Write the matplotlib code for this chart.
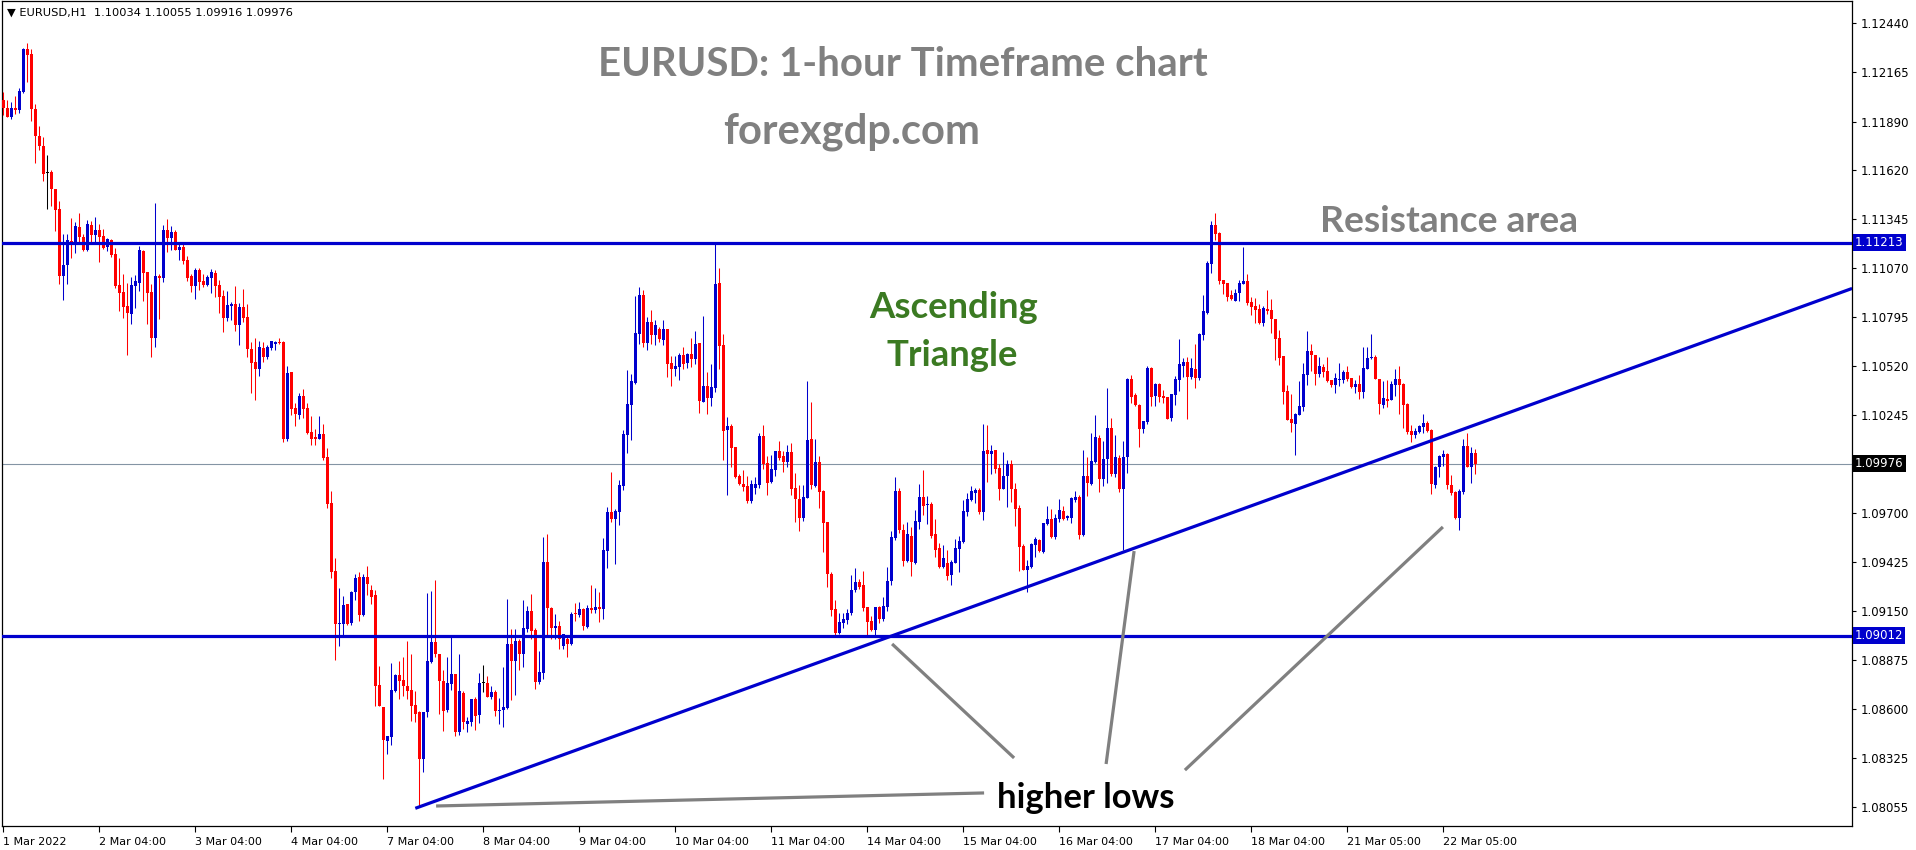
import matplotlib
matplotlib.use('Agg')
import matplotlib.pyplot as plt
import matplotlib.transforms as mtransforms
import numpy as np

# ---------------- data (EURUSD H1) ----------------
opens = [
1.12011, 1.11966, 1.11917, 1.11966, 1.11955, 1.12057, 1.12294, 1.12268, 1.11960, 1.11811,
1.11753, 1.11600, 1.11606, 1.11513, 1.11401, 1.11027, 1.11087, 1.11221, 1.11214, 1.11300,
1.11244, 1.11171, 1.11311, 1.11255, 1.11283, 1.11249, 1.11190, 1.11227, 1.11149, 1.10975,
1.10936, 1.10860, 1.10815, 1.10971, 1.10986, 1.11166, 1.11048, 1.10936, 1.10680, 1.11026,
1.11016, 1.11283, 1.11238, 1.11272, 1.11173, 1.11188, 1.11115, 1.11026, 1.10971, 1.11059,
1.10998, 1.10975, 1.11016, 1.11042, 1.10975, 1.10914, 1.10792, 1.10859, 1.10869, 1.10753,
1.10852, 1.10796, 1.10619, 1.10546, 1.10507, 1.10624, 1.10574, 1.10624, 1.10647, 1.10656,
1.10658, 1.10113, 1.10490, 1.10287, 1.10248, 1.10354, 1.10287, 1.10152, 1.10124, 1.10113,
1.10141, 1.10012, 1.09757, 1.09374, 1.09078, 1.09078, 1.09190, 1.09083, 1.09259, 1.09341,
1.09128, 1.09341, 1.09270, 1.09240, 1.08736, 1.08615, 1.08423, 1.08447, 1.08705, 1.08792,
1.08764, 1.08733, 1.08710, 1.08626, 1.08587, 1.08324, 1.08587, 1.08867, 1.08977, 1.08912,
1.08761, 1.08598, 1.08744, 1.08798, 1.08475, 1.08692, 1.08520, 1.08531, 1.08660, 1.08570,
1.08746, 1.08746, 1.08671, 1.08699, 1.08593, 1.08598, 1.08610, 1.08968, 1.08873, 1.08985,
1.08912, 1.09052, 1.09152, 1.09044, 1.08755, 1.08805, 1.09425, 1.09169, 1.09057, 1.09068,
1.08956, 1.08996, 1.08968, 1.09141, 1.09130, 1.09163, 1.09063, 1.09169, 1.09158, 1.09175,
1.09163, 1.09488, 1.09706, 1.09667, 1.09706, 1.09852, 1.10137, 1.10305, 1.10428, 1.10703,
1.10921, 1.10652, 1.10770, 1.10697, 1.10731, 1.10669, 1.10731, 1.10540, 1.10507, 1.10518,
1.10585, 1.10540, 1.10591, 1.10563, 1.10652, 1.10322, 1.10412, 1.10345, 1.10400, 1.10988,
1.10641, 1.10162, 1.10184, 1.10070, 1.09908, 1.09863, 1.09852, 1.09768, 1.09841, 1.09858,
1.10132, 1.09981, 1.09875, 1.09942, 1.10048, 1.10020, 1.09987, 1.10042, 1.09841, 1.09779,
1.09673, 1.09785, 1.10115, 1.09852, 1.09987, 1.09824, 1.09651, 1.09360, 1.09164, 1.09029,
1.09085, 1.09102, 1.09141, 1.09270, 1.09315, 1.09298, 1.09175, 1.09097, 1.09046, 1.09175,
1.09108, 1.09175, 1.09320, 1.09561, 1.09824, 1.09603, 1.09430, 1.09570, 1.09419, 1.09648,
1.09788, 1.09743, 1.09749, 1.09581, 1.09503, 1.09396, 1.09419, 1.09352, 1.09419, 1.09497,
1.09536, 1.09704, 1.09771, 1.09811, 1.09827, 1.09704, 1.10051, 1.10029, 1.10051, 1.09950,
1.09833, 1.09906, 1.09973, 1.09833, 1.09727, 1.09514, 1.09380, 1.09396, 1.09520, 1.09547,
1.09480, 1.09637, 1.09665, 1.09564, 1.09665, 1.09710, 1.09671, 1.09671, 1.09771, 1.09788,
1.09575, 1.09906, 1.09861, 1.09987, 1.10121, 1.09891, 1.10003, 1.10177, 1.09919, 1.10009,
1.09835, 1.10014, 1.10451, 1.10362, 1.10306, 1.10171, 1.10210, 1.10513, 1.10356, 1.10423,
1.10356, 1.10350, 1.10233, 1.10362, 1.10446, 1.10524, 1.10546, 1.10462, 1.10507, 1.10457,
1.10697, 1.10820, 1.11095, 1.11313, 1.11268, 1.11005, 1.10987, 1.10921, 1.10888, 1.10932,
1.10983, 1.11000, 1.10882, 1.10860, 1.10843, 1.10764, 1.10841, 1.10835, 1.10787, 1.10680,
1.10580, 1.10384, 1.10227, 1.10199, 1.10249, 1.10294, 1.10473, 1.10608, 1.10585, 1.10479,
1.10518, 1.10496, 1.10445, 1.10417, 1.10445, 1.10445, 1.10490, 1.10457, 1.10406, 1.10423,
1.10378, 1.10507, 1.10568, 1.10574, 1.10451, 1.10305, 1.10339, 1.10333, 1.10417, 1.10451,
1.10423, 1.10311, 1.10160, 1.10137, 1.10154, 1.10182, 1.10205, 1.10166, 1.09858, 1.09958,
1.10014, 1.10031, 1.09858, 1.09818, 1.09673, 1.09818, 1.10076, 1.09958, 1.10034]

highs = [
1.12057, 1.12011, 1.12000, 1.12033, 1.12078, 1.12302, 1.12330, 1.12294, 1.11988, 1.11865,
1.11803, 1.11703, 1.11619, 1.11513, 1.11445, 1.11261, 1.11261, 1.11350, 1.11328, 1.11378,
1.11261, 1.11339, 1.11333, 1.11356, 1.11317, 1.11289, 1.11238, 1.11233, 1.11182, 1.11128,
1.11037, 1.10986, 1.11020, 1.11031, 1.11194, 1.11171, 1.11048, 1.10981, 1.11434, 1.11037,
1.11311, 1.11345, 1.11305, 1.11283, 1.11205, 1.11205, 1.11138, 1.11037, 1.11070, 1.11070,
1.11037, 1.11031, 1.11065, 1.11059, 1.11003, 1.10947, 1.10942, 1.10880, 1.10970, 1.10874,
1.10953, 1.10869, 1.10658, 1.10680, 1.10664, 1.10658, 1.10641, 1.10664, 1.10664, 1.10680,
1.10664, 1.10524, 1.10490, 1.10317, 1.10373, 1.10393, 1.10315, 1.10244, 1.10169, 1.10242,
1.10197, 1.10063, 1.09822, 1.09447, 1.09279, 1.09234, 1.09190, 1.09264, 1.09358, 1.09369,
1.09358, 1.09402, 1.09296, 1.09270, 1.08843, 1.08615, 1.08451, 1.08860, 1.08798, 1.08871,
1.08893, 1.08983, 1.08910, 1.08705, 1.08593, 1.08587, 1.09251, 1.09263, 1.09324, 1.08912,
1.08820, 1.08893, 1.09005, 1.08798, 1.08910, 1.08705, 1.08559, 1.08660, 1.08671, 1.08805,
1.08848, 1.08787, 1.08733, 1.08710, 1.08666, 1.08839, 1.09218, 1.09052, 1.09052, 1.08996,
1.09212, 1.09179, 1.09246, 1.09055, 1.08927, 1.09565, 1.09581, 1.09175, 1.09136, 1.09096,
1.09024, 1.09012, 1.09147, 1.09197, 1.09203, 1.09169, 1.09186, 1.09298, 1.09281, 1.09259,
1.09561, 1.09734, 1.09930, 1.09723, 1.09885, 1.10165, 1.10501, 1.10479, 1.10915, 1.10966,
1.10949, 1.10798, 1.10837, 1.10781, 1.10742, 1.10781, 1.10731, 1.10580, 1.10580, 1.10596,
1.10630, 1.10596, 1.10680, 1.10720, 1.10652, 1.10802, 1.10490, 1.10535, 1.11205, 1.11072,
1.10703, 1.10236, 1.10197, 1.10070, 1.09915, 1.09942, 1.09908, 1.09886, 1.09903, 1.10149,
1.10194, 1.10020, 1.10026, 1.10048, 1.10104, 1.10048, 1.10082, 1.10093, 1.09925, 1.09858,
1.09858, 1.10440, 1.10322, 1.10115, 1.10020, 1.09830, 1.09651, 1.09371, 1.09214, 1.09141,
1.09141, 1.09164, 1.09354, 1.09393, 1.09332, 1.09376, 1.09175, 1.09125, 1.09175, 1.09180,
1.09231, 1.09399, 1.09600, 1.09903, 1.09841, 1.09635, 1.09648, 1.09620, 1.09715, 1.09861,
1.09939, 1.09794, 1.09760, 1.09665, 1.09531, 1.09520, 1.09491, 1.09436, 1.09553, 1.09570,
1.09771, 1.09811, 1.09850, 1.09839, 1.09839, 1.10197, 1.10191, 1.10079, 1.10051, 1.09973,
1.10040, 1.09995, 1.09995, 1.09867, 1.09743, 1.09525, 1.09436, 1.09531, 1.09564, 1.09553,
1.09643, 1.09738, 1.09721, 1.09693, 1.09777, 1.09738, 1.09687, 1.09788, 1.09822, 1.09800,
1.10051, 1.10012, 1.10146, 1.10250, 1.10138, 1.10104, 1.10401, 1.10233, 1.10138, 1.10026,
1.10104, 1.10457, 1.10473, 1.10373, 1.10311, 1.10216, 1.10524, 1.10518, 1.10429, 1.10429,
1.10389, 1.10350, 1.10367, 1.10468, 1.10675, 1.10569, 1.10574, 1.10569, 1.10647, 1.10708,
1.10921, 1.11112, 1.11335, 1.11380, 1.11274, 1.11005, 1.10988, 1.10949, 1.10955, 1.11005,
1.11190, 1.11039, 1.10910, 1.10904, 1.10871, 1.10858, 1.10947, 1.10897, 1.10787, 1.10725,
1.10580, 1.10417, 1.10367, 1.10261, 1.10440, 1.10540, 1.10720, 1.10647, 1.10585, 1.10574,
1.10535, 1.10574, 1.10445, 1.10484, 1.10540, 1.10501, 1.10524, 1.10457, 1.10445, 1.10473,
1.10630, 1.10630, 1.10703, 1.10585, 1.10451, 1.10440, 1.10445, 1.10440, 1.10507, 1.10524,
1.10429, 1.10317, 1.10194, 1.10177, 1.10194, 1.10255, 1.10216, 1.10171, 1.09964, 1.10026,
1.10054, 1.10036, 1.09914, 1.09824, 1.09835, 1.10115, 1.10149, 1.10070, 1.10055]

lows = [
1.11927, 1.11917, 1.11906, 1.11932, 1.11940, 1.12052, 1.12113, 1.11895, 1.11660, 1.11731,
1.11559, 1.11402, 1.11419, 1.11279, 1.10983, 1.10891, 1.10983, 1.11128, 1.11156, 1.11212,
1.11166, 1.11166, 1.11218, 1.11212, 1.11106, 1.11177, 1.11167, 1.11134, 1.10960, 1.10832,
1.10792, 1.10585, 1.10759, 1.10848, 1.10943, 1.10888, 1.10759, 1.10574, 1.10630, 1.10787,
1.10994, 1.11162, 1.11171, 1.11171, 1.11117, 1.11095, 1.11000, 1.10938, 1.10899, 1.10949,
1.10966, 1.10972, 1.10932, 1.10908, 1.10820, 1.10714, 1.10776, 1.10781, 1.10720, 1.10641,
1.10770, 1.10574, 1.10373, 1.10333, 1.10468, 1.10546, 1.10563, 1.10613, 1.10613, 1.10647,
1.10098, 1.10104, 1.10249, 1.10188, 1.10227, 1.10231, 1.10143, 1.10082, 1.10082, 1.10113,
1.09998, 1.09729, 1.09337, 1.08876, 1.08955, 1.09007, 1.09072, 1.09072, 1.09212, 1.09095,
1.09123, 1.09240, 1.09192, 1.08621, 1.08621, 1.08208, 1.08352, 1.08402, 1.08699, 1.08660,
1.08677, 1.08660, 1.08537, 1.08531, 1.08055, 1.08251, 1.08559, 1.08861, 1.08895, 1.08576,
1.08481, 1.08587, 1.08710, 1.08453, 1.08458, 1.08492, 1.08475, 1.08509, 1.08486, 1.08526,
1.08699, 1.08671, 1.08660, 1.08565, 1.08520, 1.08503, 1.08604, 1.08654, 1.08682, 1.08822,
1.08839, 1.09033, 1.08996, 1.08716, 1.08744, 1.08772, 1.09007, 1.08996, 1.08996, 1.08940,
1.08940, 1.08895, 1.08962, 1.09096, 1.09119, 1.09046, 1.09057, 1.09141, 1.09141, 1.09091,
1.09108, 1.09393, 1.09650, 1.09415, 1.09634, 1.09830, 1.10037, 1.10109, 1.10423, 1.10647,
1.10630, 1.10613, 1.10647, 1.10641, 1.10658, 1.10641, 1.10462, 1.10412, 1.10468, 1.10445,
1.10507, 1.10512, 1.10518, 1.10535, 1.10261, 1.10322, 1.10255, 1.10300, 1.10378, 1.10507,
1.09997, 1.09798, 1.09955, 1.09897, 1.09855, 1.09824, 1.09757, 1.09757, 1.09807, 1.09841,
1.09947, 1.09802, 1.09869, 1.09908, 1.09998, 1.09930, 1.09959, 1.09802, 1.09651, 1.09600,
1.09656, 1.09785, 1.09835, 1.09847, 1.09729, 1.09483, 1.09287, 1.09125, 1.09018, 1.09024,
1.09057, 1.09080, 1.09130, 1.09259, 1.09276, 1.09152, 1.09018, 1.09041, 1.09018, 1.09085,
1.09097, 1.09152, 1.09298, 1.09550, 1.09589, 1.09400, 1.09424, 1.09346, 1.09413, 1.09609,
1.09687, 1.09637, 1.09559, 1.09452, 1.09391, 1.09391, 1.09324, 1.09296, 1.09419, 1.09368,
1.09531, 1.09682, 1.09766, 1.09755, 1.09693, 1.09659, 1.09872, 1.09917, 1.09922, 1.09771,
1.09833, 1.09732, 1.09760, 1.09626, 1.09374, 1.09380, 1.09256, 1.09391, 1.09452, 1.09480,
1.09475, 1.09631, 1.09559, 1.09553, 1.09648, 1.09659, 1.09659, 1.09643, 1.09760, 1.09553,
1.09570, 1.09794, 1.09855, 1.09981, 1.09819, 1.09852, 1.09869, 1.09908, 1.09903, 1.09819,
1.09492, 1.09925, 1.10317, 1.10300, 1.10070, 1.10149, 1.10199, 1.10300, 1.10300, 1.10322,
1.10317, 1.10227, 1.10216, 1.10306, 1.10384, 1.10462, 1.10227, 1.10451, 1.10401, 1.10446,
1.10669, 1.10815, 1.11044, 1.11229, 1.10983, 1.10927, 1.10888, 1.10893, 1.10888, 1.10888,
1.10983, 1.10865, 1.10809, 1.10764, 1.10759, 1.10747, 1.10813, 1.10708, 1.10557, 1.10529,
1.10311, 1.10221, 1.10154, 1.10026, 1.10249, 1.10272, 1.10417, 1.10496, 1.10417, 1.10462,
1.10462, 1.10434, 1.10406, 1.10373, 1.10412, 1.10429, 1.10440, 1.10401, 1.10373, 1.10339,
1.10345, 1.10507, 1.10563, 1.10451, 1.10255, 1.10289, 1.10294, 1.10333, 1.10356, 1.10255,
1.10177, 1.10143, 1.10098, 1.10121, 1.10149, 1.10149, 1.10154, 1.09807, 1.09841, 1.09902,
1.09964, 1.09835, 1.09802, 1.09667, 1.09606, 1.09807, 1.09958, 1.09869, 1.09916]

closes = [
1.11964, 1.11917, 1.11966, 1.11955, 1.12061, 1.12294, 1.12263, 1.11960, 1.11811, 1.11753,
1.11598, 1.11600, 1.11514, 1.11397, 1.11027, 1.11087, 1.11227, 1.11214, 1.11305, 1.11246,
1.11171, 1.11317, 1.11255, 1.11283, 1.11246, 1.11184, 1.11233, 1.11145, 1.10971, 1.10932,
1.10854, 1.10820, 1.10975, 1.10998, 1.11171, 1.11044, 1.10932, 1.10680, 1.11026, 1.11016,
1.11283, 1.11238, 1.11272, 1.11173, 1.11188, 1.11111, 1.11016, 1.10971, 1.11059, 1.10994,
1.10975, 1.11020, 1.11048, 1.10972, 1.10908, 1.10792, 1.10863, 1.10869, 1.10753, 1.10852,
1.10792, 1.10619, 1.10540, 1.10507, 1.10630, 1.10574, 1.10630, 1.10664, 1.10658, 1.10651,
1.10113, 1.10484, 1.10281, 1.10253, 1.10354, 1.10281, 1.10149, 1.10113, 1.10113, 1.10141,
1.10007, 1.09751, 1.09371, 1.09078, 1.09083, 1.09184, 1.09078, 1.09259, 1.09335, 1.09128,
1.09341, 1.09302, 1.09229, 1.08733, 1.08621, 1.08429, 1.08451, 1.08708, 1.08792, 1.08761,
1.08733, 1.08705, 1.08621, 1.08576, 1.08324, 1.08587, 1.08871, 1.08977, 1.08912, 1.08761,
1.08593, 1.08748, 1.08798, 1.08475, 1.08705, 1.08531, 1.08535, 1.08660, 1.08565, 1.08748,
1.08746, 1.08671, 1.08699, 1.08593, 1.08598, 1.08615, 1.08968, 1.08873, 1.08985, 1.08912,
1.09055, 1.09152, 1.09041, 1.08755, 1.08809, 1.09425, 1.09169, 1.09057, 1.09068, 1.08996,
1.09024, 1.08968, 1.09136, 1.09136, 1.09163, 1.09068, 1.09169, 1.09158, 1.09175, 1.09163,
1.09494, 1.09706, 1.09667, 1.09712, 1.09858, 1.10143, 1.10311, 1.10440, 1.10706, 1.10921,
1.10652, 1.10770, 1.10697, 1.10753, 1.10675, 1.10731, 1.10535, 1.10507, 1.10524, 1.10585,
1.10535, 1.10591, 1.10563, 1.10647, 1.10328, 1.10412, 1.10345, 1.10406, 1.10983, 1.10636,
1.10160, 1.10184, 1.10065, 1.09903, 1.09863, 1.09847, 1.09768, 1.09863, 1.09863, 1.10132,
1.09975, 1.09869, 1.09947, 1.10048, 1.10009, 1.09987, 1.10042, 1.09835, 1.09779, 1.09673,
1.09791, 1.10110, 1.09858, 1.09987, 1.09819, 1.09645, 1.09360, 1.09158, 1.09029, 1.09091,
1.09108, 1.09141, 1.09270, 1.09315, 1.09287, 1.09169, 1.09091, 1.09046, 1.09175, 1.09108,
1.09180, 1.09320, 1.09567, 1.09824, 1.09606, 1.09430, 1.09581, 1.09424, 1.09654, 1.09788,
1.09738, 1.09749, 1.09570, 1.09491, 1.09396, 1.09447, 1.09346, 1.09424, 1.09503, 1.09542,
1.09710, 1.09777, 1.09822, 1.09827, 1.09704, 1.10046, 1.10029, 1.10046, 1.09945, 1.09833,
1.09906, 1.09973, 1.09833, 1.09721, 1.09508, 1.09380, 1.09402, 1.09525, 1.09553, 1.09486,
1.09643, 1.09665, 1.09564, 1.09671, 1.09715, 1.09665, 1.09682, 1.09783, 1.09788, 1.09575,
1.09906, 1.09867, 1.09990, 1.10126, 1.09891, 1.10003, 1.10177, 1.09919, 1.10014, 1.09835,
1.10014, 1.10451, 1.10350, 1.10306, 1.10171, 1.10216, 1.10513, 1.10350, 1.10423, 1.10350,
1.10345, 1.10227, 1.10367, 1.10451, 1.10535, 1.10546, 1.10462, 1.10513, 1.10457, 1.10703,
1.10832, 1.11100, 1.11313, 1.11263, 1.11000, 1.10983, 1.10910, 1.10899, 1.10932, 1.10988,
1.11000, 1.10876, 1.10854, 1.10837, 1.10764, 1.10846, 1.10830, 1.10787, 1.10675, 1.10568,
1.10378, 1.10221, 1.10205, 1.10255, 1.10300, 1.10479, 1.10608, 1.10585, 1.10479, 1.10524,
1.10490, 1.10440, 1.10417, 1.10457, 1.10451, 1.10490, 1.10451, 1.10406, 1.10423, 1.10378,
1.10512, 1.10568, 1.10574, 1.10451, 1.10311, 1.10345, 1.10328, 1.10423, 1.10451, 1.10417,
1.10305, 1.10154, 1.10137, 1.10160, 1.10188, 1.10205, 1.10160, 1.09863, 1.09958, 1.10020,
1.10031, 1.09858, 1.09813, 1.09673, 1.09824, 1.10076, 1.09958, 1.10037, 1.09976]

time_labels = ["1 Mar 2022", "2 Mar 04:00", "3 Mar 04:00", "4 Mar 04:00", "7 Mar 04:00",
               "8 Mar 04:00", "9 Mar 04:00", "10 Mar 04:00", "11 Mar 04:00", "14 Mar 04:00",
               "15 Mar 04:00", "16 Mar 04:00", "17 Mar 04:00", "18 Mar 04:00", "21 Mar 05:00",
               "22 Mar 05:00"]
bars_per_label = 24

price_ticks = [1.12440, 1.12165, 1.11890, 1.11620, 1.11345, 1.11070, 1.10795, 1.10520,
               1.10245, 1.09700, 1.09425, 1.09150, 1.08875, 1.08600, 1.08325, 1.08055]

resistance = 1.11213
support = 1.09012
last_price = 1.09976

trend_x = [103.0, 462.2]
trend_y = [1.08046, 1.10956]

pointer_x = [[108.2, 245.2], [222.2, 252.7], [282.7, 275.7], [359.9, 295.4]]
pointer_y = [[1.08059, 1.08132], [1.08966, 1.08328], [1.09486, 1.08294], [1.09621, 1.08260]]

header = "\u25bc EURUSD,H1  1.10034 1.10055 1.09916 1.09976"

# ---------------- figure ----------------
W, H = 1916, 850
fig = plt.figure(figsize=(W / 100, H / 100), dpi=100)
fig.patch.set_facecolor('white')
ax = fig.add_axes([2 / W, (H - 826) / H, 1850 / W, 825 / H])
ax.set_facecolor('white')

o = np.array(opens)
h = np.array(highs)
l = np.array(lows)
c = np.array(closes)
x = np.arange(len(o))
h = np.maximum(h, np.maximum(o, c))
l = np.minimum(l, np.minimum(o, c))

BLUE = '#0000cd'
RED = '#ff0000'
cols = np.where(c > o, BLUE, np.where(c < o, RED, '#000000'))

ax.vlines(x, l, h, colors=cols, linewidth=0.75, zorder=3)
body_bottom = np.minimum(o, c)
body_h = np.maximum(np.abs(c - o), 0.000055)
ax.bar(x, body_h, bottom=body_bottom, width=0.72, color=cols, linewidth=0, zorder=3)

# horizontal levels
ax.axhline(last_price, color='#8494a4', linewidth=0.8, zorder=2)
ax.axhline(resistance, color=BLUE, linewidth=2.3, zorder=4)
ax.axhline(support, color=BLUE, linewidth=2.3, zorder=4)

# ascending trend line
ax.plot(trend_x, trend_y, color=BLUE, linewidth=2.3, solid_capstyle='butt', zorder=4)

# grey pointer lines
for px, py in zip(pointer_x, pointer_y):
    ax.plot(px, py, color='#808080', linewidth=2.3, solid_capstyle='butt', zorder=4)

ax.set_xlim(-0.325, 462.175)
ax.set_ylim(1.07947, 1.12565)

# axes styling
for s in ax.spines.values():
    s.set_color('black')
    s.set_linewidth(0.9)

ax.yaxis.tick_right()
ax.set_yticks(price_ticks)
ax.set_yticklabels([f'{v:.5f}' for v in price_ticks])
ax.tick_params(axis='y', direction='out', length=3, width=0.8, labelsize=8.5, pad=3,
               colors='black')

xt = list(range(0, len(time_labels) * bars_per_label, bars_per_label))
ax.set_xticks(xt)
ax.set_xticklabels(time_labels)
ax.tick_params(axis='x', direction='out', length=4, width=0.8, labelsize=8, pad=4,
               colors='black')
for lab in ax.get_xticklabels():
    lab.set_horizontalalignment('left')

# price boxes on the axis
trans = mtransforms.blended_transform_factory(ax.transAxes, ax.transData)
for val, bg in [(resistance, BLUE), (support, BLUE), (last_price, '#000000')]:
    ax.text(1.0015, val, f'{val:.5f}', transform=trans, ha='left', va='center',
            color='white', fontsize=8.5, clip_on=False, zorder=6,
            bbox=dict(boxstyle='square,pad=0.18', fc=bg, ec='none'))

# ---------------- texts ----------------
renderer = fig.canvas.get_renderer()


def place(txt, cx, cy, width, **kw):
    t = fig.text(cx / W, 1 - cy / H, txt, ha='center', va='center', **kw)
    w = t.get_window_extent(renderer).width
    t.set_fontsize(t.get_fontsize() * width / w)
    return t


FONT = ['Lato', 'DejaVu Sans']
place("EURUSD: 1-hour Timeframe chart", 903, 65, 608, color='#808080',
      fontweight='bold', family=FONT, fontsize=28)
place("forexgdp.com", 852, 132, 257, color='#808080', fontweight='bold',
      family=FONT, fontsize=24)
place("Resistance area", 1449, 221, 259, color='#808080', fontweight='bold',
      family=FONT, fontsize=24)
asc = place("Ascending", 954, 307, 169, color='#3b7a22', fontweight='bold',
            family=FONT, fontsize=24)
fig.text(952 / W, 1 - 356 / H, "Triangle", ha='center', va='center',
         color='#3b7a22', fontweight='bold', family=FONT, fontsize=asc.get_fontsize())
place("higher lows", 1086, 798, 178, color='black', fontweight='bold',
      family=FONT, fontsize=24)

fig.text(7 / W, 1 - 13 / H, header, ha='left', va='center', fontsize=8.2,
         color='black', family=['DejaVu Sans'])

fig.savefig('out.png', dpi=100, facecolor='white')
